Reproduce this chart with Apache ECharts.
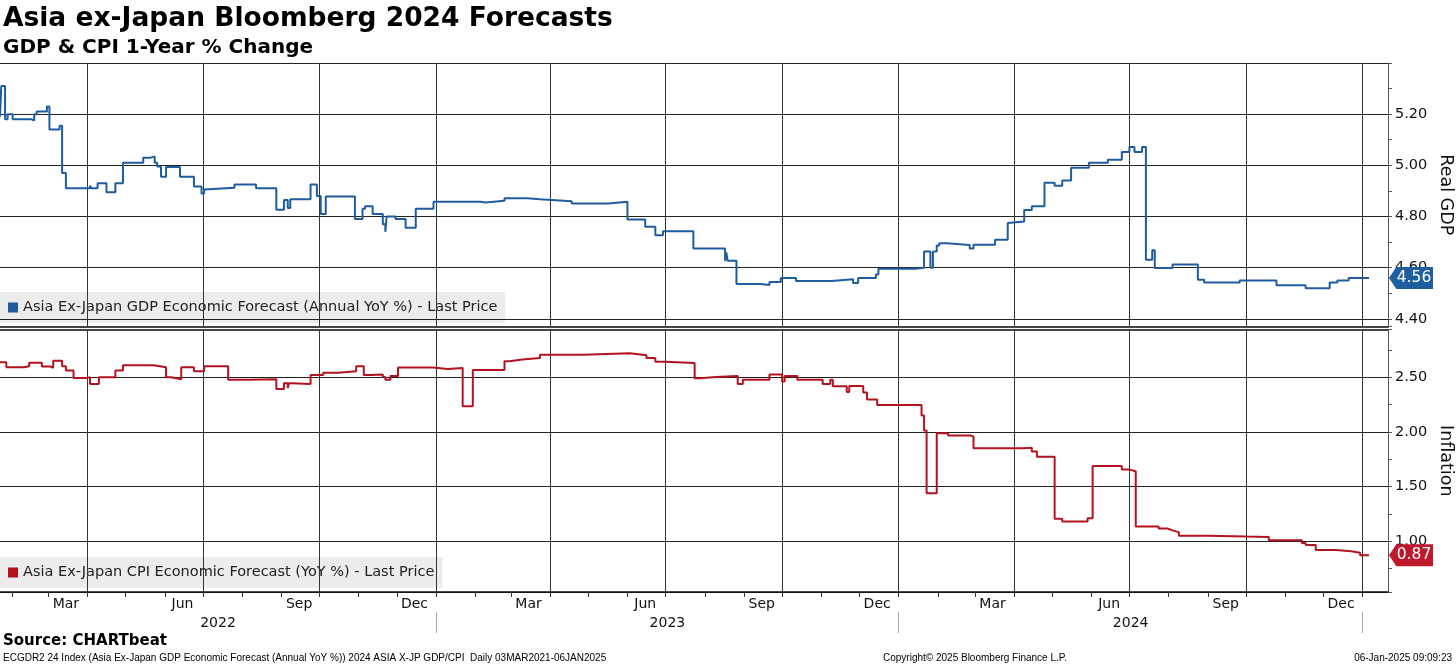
<!DOCTYPE html>
<html><head><meta charset="utf-8">
<script src="https://cdn.jsdelivr.net/npm/echarts@6/dist/echarts.min.js"></script>
<style>html,body{margin:0;padding:0;background:#fff}#c{width:1456px;height:666px}</style>
</head><body><div id="c"></div>
<script>
const gdpDates = ['2022-01-22','2022-01-23','2022-01-26','2022-01-28','2022-02-01','2022-02-16','2022-02-18','2022-02-20','2022-02-28','2022-03-02','2022-03-10','2022-03-12','2022-03-15','2022-04-03','2022-04-04','2022-04-09','2022-04-16','2022-04-23','2022-04-29','2022-05-15','2022-05-21','2022-05-24','2022-05-26','2022-05-29','2022-06-02','2022-06-13','2022-06-24','2022-06-30','2022-07-02','2022-07-03','2022-07-26','2022-08-12','2022-08-28','2022-09-03','2022-09-06','2022-09-08','2022-09-24','2022-09-29','2022-10-02','2022-10-06','2022-10-29','2022-11-04','2022-11-06','2022-11-12','2022-11-20','2022-11-22','2022-11-23','2022-11-30','2022-12-08','2022-12-16','2022-12-30','2023-02-05','2023-02-09','2023-02-24','2023-03-14','2023-03-24','2023-04-18','2023-05-17','2023-06-01','2023-06-15','2023-06-23','2023-06-29','2023-07-23','2023-08-17','2023-08-18','2023-08-19','2023-08-26','2023-09-14','2023-09-21','2023-09-30','2023-10-12','2023-11-09','2023-11-26','2023-11-30','2023-12-14','2023-12-16','2024-01-14','2024-01-21','2024-01-26','2024-01-28','2024-01-31','2024-02-02','2024-02-08','2024-02-26','2024-02-29','2024-03-17','2024-03-27','2024-03-28','2024-04-09','2024-04-15','2024-04-25','2024-05-03','2024-05-09','2024-05-16','2024-05-30','2024-06-14','2024-06-25','2024-07-01','2024-07-05','2024-07-11','2024-07-14','2024-07-19','2024-07-21','2024-08-04','2024-08-24','2024-08-29','2024-09-26','2024-10-25','2024-11-17','2024-12-06','2024-12-12','2024-12-21','2025-01-06'];
const gdpValues = [5.19,5.31,5.18,5.20,5.18,5.175,5.20,5.21,5.23,5.14,5.155,4.97,4.91,4.92,4.91,4.93,4.895,4.93,5.01,5.03,5.035,5.01,4.995,4.955,4.993,4.955,4.917,4.89,4.906,4.912,4.925,4.91,4.826,4.864,4.833,4.867,4.925,4.88,4.81,4.878,4.79,4.83,4.84,4.81,4.77,4.74,4.80,4.79,4.756,4.83,4.858,4.855,4.862,4.871,4.867,4.86,4.851,4.858,4.788,4.76,4.727,4.742,4.675,4.627,4.66,4.627,4.536,4.532,4.544,4.56,4.548,4.555,4.54,4.56,4.573,4.596,4.60,4.663,4.60,4.663,4.687,4.695,4.689,4.675,4.69,4.709,4.775,4.78,4.825,4.84,4.932,4.92,4.941,4.991,5.01,5.022,5.052,5.072,5.052,5.072,4.631,4.668,4.599,4.612,4.553,4.542,4.55,4.531,4.52,4.542,4.55,4.56,4.56];
const cpiDates = ['2022-01-22','2022-01-27','2022-02-10','2022-02-14','2022-02-24','2022-03-03','2022-03-05','2022-03-12','2022-03-15','2022-03-21','2022-04-01','2022-04-03','2022-04-10','2022-04-23','2022-04-29','2022-05-23','2022-06-02','2022-06-06','2022-06-14','2022-06-24','2022-07-02','2022-07-21','2022-08-06','2022-08-28','2022-09-03','2022-09-06','2022-09-07','2022-09-09','2022-09-24','2022-10-04','2022-10-16','2022-10-30','2022-11-05','2022-11-11','2022-11-20','2022-11-22','2022-11-26','2022-12-02','2022-12-30','2023-01-10','2023-01-22','2023-01-30','2023-02-24','2023-02-28','2023-03-10','2023-03-24','2023-04-27','2023-06-03','2023-06-16','2023-06-23','2023-07-01','2023-07-24','2023-07-28','2023-08-10','2023-08-27','2023-08-31','2023-09-21','2023-10-01','2023-10-03','2023-10-13','2023-11-02','2023-11-08','2023-11-10','2023-11-21','2023-11-23','2023-12-04','2023-12-07','2023-12-15','2024-01-19','2024-01-21','2024-01-23','2024-01-31','2024-02-09','2024-02-27','2024-02-29','2024-04-08','2024-04-15','2024-04-19','2024-05-03','2024-05-09','2024-05-29','2024-06-02','2024-06-25','2024-07-01','2024-07-06','2024-07-24','2024-07-31','2024-08-04','2024-08-09','2024-08-31','2024-10-01','2024-10-19','2024-11-14','2024-11-17','2024-11-25','2024-12-11','2024-12-23','2024-12-30','2025-01-06'];
const cpiValues = [2.635,2.59,2.60,2.632,2.596,2.585,2.65,2.60,2.56,2.493,2.50,2.438,2.498,2.56,2.608,2.59,2.498,2.48,2.59,2.553,2.60,2.475,2.48,2.392,2.445,2.40,2.445,2.438,2.52,2.541,2.553,2.60,2.52,2.525,2.50,2.475,2.51,2.587,2.575,2.583,2.234,2.566,2.644,2.66,2.675,2.705,2.717,2.70,2.675,2.64,2.63,2.49,2.50,2.51,2.438,2.475,2.525,2.46,2.51,2.475,2.438,2.475,2.416,2.365,2.42,2.36,2.295,2.245,2.15,2.012,1.44,1.987,1.966,1.955,1.85,1.855,1.82,1.773,1.206,1.182,1.21,1.687,1.655,1.64,1.136,1.117,1.10,1.084,1.051,1.043,1.04,1.01,0.985,0.966,0.92,0.909,0.895,0.872,0.872];
const monthLabels = ['Mar','Jun','Sep','Dec'];
const yearLabels = ['2022','2023','2024'];
const xStart = '2022-01-22', xEnd = '2025-01-21';
const gdpName = 'Asia Ex-Japan GDP Economic Forecast (Annual YoY %) - Last Price';
const cpiName = 'Asia Ex-Japan CPI Economic Forecast (YoY %) - Last Price';
const footerLeft = 'ECGDR2 24 Index (Asia Ex-Japan GDP Economic Forecast (Annual YoY %)) 2024 ASIA X-JP GDP/CPI  Daily 03MAR2021-06JAN2025';
const footerMid = 'Copyright\u00A9 2025 Bloomberg Finance L.P.';
const footerRight = '06-Jan-2025 09:09:23';

function ts(s){const p=s.split('-').map(Number);return Date.UTC(p[0],p[1]-1,p[2]);}
const xMin = ts(xStart), xMax = ts(xEnd);
const gdpData = gdpDates.map((d,i)=>[ts(d), gdpValues[i]]);
const cpiData = cpiDates.map((d,i)=>[ts(d), cpiValues[i]]);
const lastGdp = gdpValues[gdpValues.length-1], lastCpi = cpiValues[cpiValues.length-1];

const monthTicks=[], quarterTicks=[], yearTicks=[], monthLabelPos=[];
for(let y=2022;y<=2025;y++){for(let m=0;m<12;m++){
  const t=Date.UTC(y,m,1);
  if(t>xMin && t<=xMax){monthTicks.push(t); if(m%3===0) quarterTicks.push(t); if(m===0) yearTicks.push(t);}
  const mid=Date.UTC(y,m,15);
  if(m%3===2 && mid>xMin && mid<xMax) monthLabelPos.push(mid);
}}
const yearLabelPos = yearLabels.map(y=>{const a=Math.max(Date.UTC(+y,0,1),xMin), b=Math.min(Date.UTC(+y+1,0,1),xMax); return (a+b)/2;});

const font = 'DejaVu Sans';
const legendCommon = {icon:'rect', itemWidth:10, itemHeight:10, padding:[8,8,8,8], backgroundColor:'#ececec', selectedMode:false, z:-1,
  textStyle:{fontSize:14.5, color:'#222', fontFamily:font}};
const tagSymbol = 'path://M0,11L8,0L48,0L48,22L8,22Z';
function yAxisDef(grid, min, max, name){
  return {type:'value', gridIndex:grid, position:'right', min:min, max:max, splitNumber:5,
    name:name, nameLocation:'middle', nameRotate:-90, nameGap:49, nameMoveOverlap:false,
    nameTextStyle:{fontSize:17.5, color:'#111', fontFamily:font},
    axisLine:{show:true, lineStyle:{color:'#555', width:1}},
    axisTick:{show:true, length:4, lineStyle:{color:'#555'}},
    minorTick:{show:true, splitNumber:2, length:4, lineStyle:{color:'#555'}},
    axisLabel:{margin:7, fontSize:14.5, color:'#111', fontFamily:font, showMinLabel:false, showMaxLabel:false, formatter:v=>v.toFixed(2)},
    splitLine:{show:true, lineStyle:{color:'#222', width:1}}};
}
function tag(val, color){
  return {silent:true, symbol:tagSymbol, symbolSize:[44,22], symbolOffset:[23,0], itemStyle:{color:color},
    label:{show:true, color:'#fff', fontSize:15.5, fontFamily:font, offset:[3,0], formatter:val.toFixed(2)},
    data:[{coord:[xMax, val]}]};
}
function xBase(grid){ return {type:'value', gridIndex:grid, min:xMin, max:xMax, scale:true}; }
const option = {
  animation:false, backgroundColor:'#fff', textStyle:{fontFamily:font},
  title:[
    {text:'Asia ex-Japan Bloomberg 2024 Forecasts', left:3, top:6, padding:0, textStyle:{fontSize:26.5, fontWeight:'bold', color:'#000', fontFamily:font}},
    {text:'GDP & CPI 1-Year % Change', left:3, top:38, padding:0, textStyle:{fontSize:20, fontWeight:'bold', color:'#000', fontFamily:font}},
    {text:'Source: CHARTbeat', left:3, top:634, padding:0, textStyle:{fontSize:15, fontWeight:'bold', color:'#000', fontFamily:font}},
    {text:footerLeft, left:3, top:653, padding:0, textStyle:{fontSize:10, fontWeight:'normal', color:'#000', fontFamily:'Liberation Sans'}},
    {text:footerMid, left:883, top:653, padding:0, textStyle:{fontSize:10, fontWeight:'normal', color:'#000', fontFamily:'Liberation Sans'}},
    {text:footerRight, right:4, top:653, padding:0, textStyle:{fontSize:10, fontWeight:'normal', color:'#000', fontFamily:'Liberation Sans'}}
  ],
  legend:[
    Object.assign({data:[gdpName], left:0, top:292}, legendCommon),
    Object.assign({data:[cpiName], left:0, top:557}, legendCommon)
  ],
  grid:[
    {left:0, right:68, top:63, height:263.5, containLabel:false, outerBoundsMode:'none'},
    {left:0, right:68, top:329.5, height:262.5, containLabel:false, outerBoundsMode:'none'}
  ],
  xAxis:[
    Object.assign(xBase(0), {position:'bottom',
     axisLine:{show:true, onZero:false, lineStyle:{color:'#444', width:2}},
     axisTick:{show:false, customValues:quarterTicks}, axisLabel:{show:false},
     splitLine:{show:true, lineStyle:{color:'#333', width:1}}}),
    Object.assign(xBase(1), {position:'bottom',
     axisLine:{show:true, onZero:false, lineStyle:{color:'#111', width:1.5}},
     axisTick:{show:false, customValues:quarterTicks}, axisLabel:{show:false},
     splitLine:{show:true, lineStyle:{color:'#333', width:1}}}),
    Object.assign(xBase(1), {position:'bottom',
     axisLine:{show:false, onZero:false},
     axisTick:{show:true, length:5, customValues:monthTicks, lineStyle:{color:'#333'}},
     axisLabel:{show:true, customValues:monthLabelPos, margin:5, fontSize:14, color:'#111', fontFamily:font,
       formatter:v=>monthLabels[(new Date(v).getUTCMonth()-2)/3]},
     splitLine:{show:false}}),
    Object.assign(xBase(1), {position:'bottom', offset:20,
     axisLine:{show:false, onZero:false},
     axisTick:{show:true, length:21, customValues:yearTicks, lineStyle:{color:'#aaa'}},
     axisLabel:{show:true, customValues:yearLabelPos, margin:4, fontSize:14, color:'#111', fontFamily:font,
       formatter:v=>String(new Date(v).getUTCFullYear())},
     splitLine:{show:false}}),
    Object.assign(xBase(1), {position:'top',
     axisLine:{show:true, onZero:false, lineStyle:{color:'#444', width:2}},
     axisTick:{show:false}, axisLabel:{show:false}, splitLine:{show:false}})
  ],
  yAxis:[
    yAxisDef(0, 4.37, 5.40, 'Real GDP'),
    yAxisDef(1, 0.537, 2.935, 'Inflation')
  ],
  series:[
    {name:gdpName, type:'line', xAxisIndex:0, yAxisIndex:0, step:'end', showSymbol:false, symbol:'none',
     data:gdpData, lineStyle:{color:'#1f5c9f', width:2}, itemStyle:{color:'#1f5c9f'}, z:5,
     markPoint:tag(lastGdp, '#1f5fa0')},
    {name:cpiName, type:'line', xAxisIndex:1, yAxisIndex:1, step:'end', showSymbol:false, symbol:'none',
     data:cpiData, lineStyle:{color:'#b3121f', width:2}, itemStyle:{color:'#b3121f'}, z:5,
     markPoint:tag(lastCpi, '#c0182c')}
  ]
};
const chart = echarts.init(document.getElementById('c'), null, {renderer:'canvas'});
chart.setOption(option);
</script></body></html>
